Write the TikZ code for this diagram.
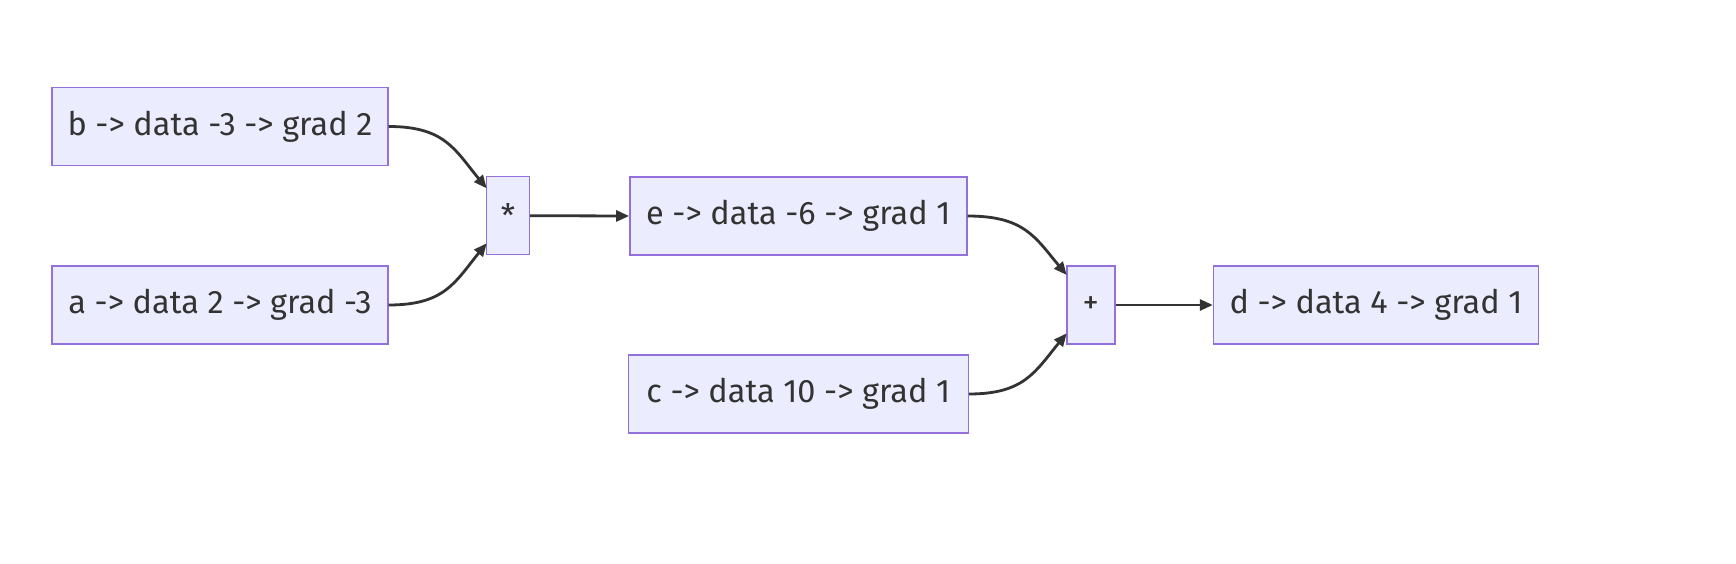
\documentclass[tikz,border=0pt]{standalone}
\usepackage{fontspec}
\setmainfont{Fira Sans}
\usetikzlibrary{arrows.meta}
\definecolor{boxfill}{HTML}{ECECFF}
\definecolor{boxline}{HTML}{9370DB}
\definecolor{ink}{HTML}{333333}
\tikzset{
  vbox/.style={draw=boxline, fill=boxfill, line width=1.4pt, inner sep=0pt,
    minimum height=78pt, text=ink, font=\fontsize{32.5}{36}\selectfont},
  opbox/.style={vbox},
  conn/.style={draw=ink, line width=2.8pt, -{Triangle[length=13pt,width=11pt]}}
}
\begin{document}
\begin{tikzpicture}[x=1pt,y=-1pt]
\useasboundingbox (0,0) rectangle (1736,564);
\node[vbox, minimum width=336pt] (b) at (220,126.5) {b -> data -3 -> grad 2};
\node[vbox, minimum width=336pt] (a) at (220,305) {a -> data 2 -> grad -3};
\node[opbox, minimum width=43pt] (mul) at (508,215.7) {*};
\node[vbox, minimum width=337pt] (e) at (798.3,216) {e -> data -6 -> grad 1};
\node[vbox, minimum width=340pt] (c) at (798.3,394) {c -> data 10 -> grad 1};
\node[opbox, minimum width=48pt] (add) at (1090.8,305) {+};
\node[vbox, minimum width=325pt] (d) at (1376,305) {d -> data 4 -> grad 1};
\coordinate (m1) at (486.7,188.3);
\coordinate (m2) at (486.7,243.3);
\coordinate (p1) at (1066.7,275);
\coordinate (p2) at (1066.7,333.3);
\draw[conn] (b.east) .. controls (445,126.5) and (455,150) .. (m1);
\draw[conn] (a.east) .. controls (445,305) and (455,282) .. (m2);
\draw[conn] (mul.east) -- (e.west);
\draw[conn] (e.east) .. controls (1024,216) and (1035,237) .. (p1);
\draw[conn] (c.east) .. controls (1024,394) and (1035,372) .. (p2);
\draw[conn] (add.east) -- (d.west);
\end{tikzpicture}
\end{document}
